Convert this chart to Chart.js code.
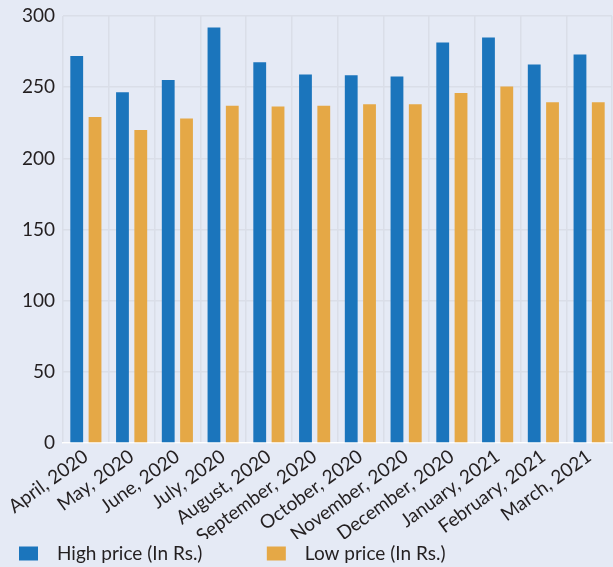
<!DOCTYPE html>
<html>
<head>
<meta charset="utf-8">
<script src="https://cdn.jsdelivr.net/npm/chart.js@4"></script>
<style>
  html, body { margin: 0; padding: 0; background: #e5eaf5; }
  #wrap { width: 613px; height: 567px; position: relative; }
</style>
</head>
<body>
<div id="wrap"><canvas id="priceChart"></canvas></div>
<script>
// --- data ---
const MONTHS = [
  'April, 2020', 'May, 2020', 'June, 2020', 'July, 2020', 'August, 2020',
  'September, 2020', 'October, 2020', 'November, 2020', 'December, 2020',
  'January, 2021', 'February, 2021', 'March, 2021'
];
const HIGH_PRICE = [272, 246.5, 255, 292, 267.5, 259, 258.5, 257.5, 281.5, 285, 266, 273];
const LOW_PRICE = [229, 220, 228, 237, 236.5, 237, 238, 238, 246, 250.5, 239.5, 239.5];
const Y_TICKS = [0, 50, 100, 150, 200, 250, 300];

const TEXT = '#231f20';
const GRID = '#dadee8';
const FONT = 'Lato, "Liberation Sans", sans-serif';

const ctx = document.getElementById('priceChart').getContext('2d');

const chart = new Chart(ctx, {
  type: 'bar',
  data: {
    labels: MONTHS,
    datasets: [
      { label: 'High price (In Rs.)', data: HIGH_PRICE, backgroundColor: '#1b75bc' },
      { label: 'Low price (In Rs.)', data: LOW_PRICE, backgroundColor: '#e5a846' }
    ]
  },
  options: {
    responsive: true,
    maintainAspectRatio: false,
    animation: false,
    categoryPercentage: 0.8,
    barPercentage: 0.7,
    layout: { padding: { top: 1, right: 1, left: 14, bottom: -6 } },
    plugins: {
      tooltip: { enabled: false },
      legend: {
        position: 'bottom',
        align: 'start',
        labels: {
          color: TEXT,
          font: { family: FONT, size: 19 },
          boxWidth: 19,
          boxHeight: 14,
          padding: 5,
          // wider gaps between box, text and the next item
          generateLabels: (c) => Chart.defaults.plugins.legend.labels.generateLabels(c).map((l, i) => {
            l.text = '\u2002' + l.text + (i === 0 ? '\u2003\u2003\u2003\u2003\u2009' : '');
            return l;
          })
        }
      }
    },
    scales: {
      x: {
        afterFit: (s) => { s.height = 96; },
        grid: { color: GRID, lineWidth: 1.5, drawTicks: false },
        border: { color: '#ffffff', width: 1.5 },
        ticks: {
          color: TEXT,
          font: { family: FONT, size: 19 },
          minRotation: 36,
          maxRotation: 36,
          padding: 2,
          autoSkip: false
        }
      },
      y: {
        min: 0,
        max: 300,
        afterBuildTicks: (s) => { s.ticks = Y_TICKS.map(v => ({ value: v })); },
        afterFit: (s) => { s.width = 49; },
        grid: { color: GRID, lineWidth: 1.5, drawTicks: false },
        border: { display: false },
        ticks: {
          color: TEXT,
          font: { family: FONT, size: 19, lineHeight: 0.85 },
          padding: 8
        }
      }
    }
  }
});
</script>
</body>
</html>
